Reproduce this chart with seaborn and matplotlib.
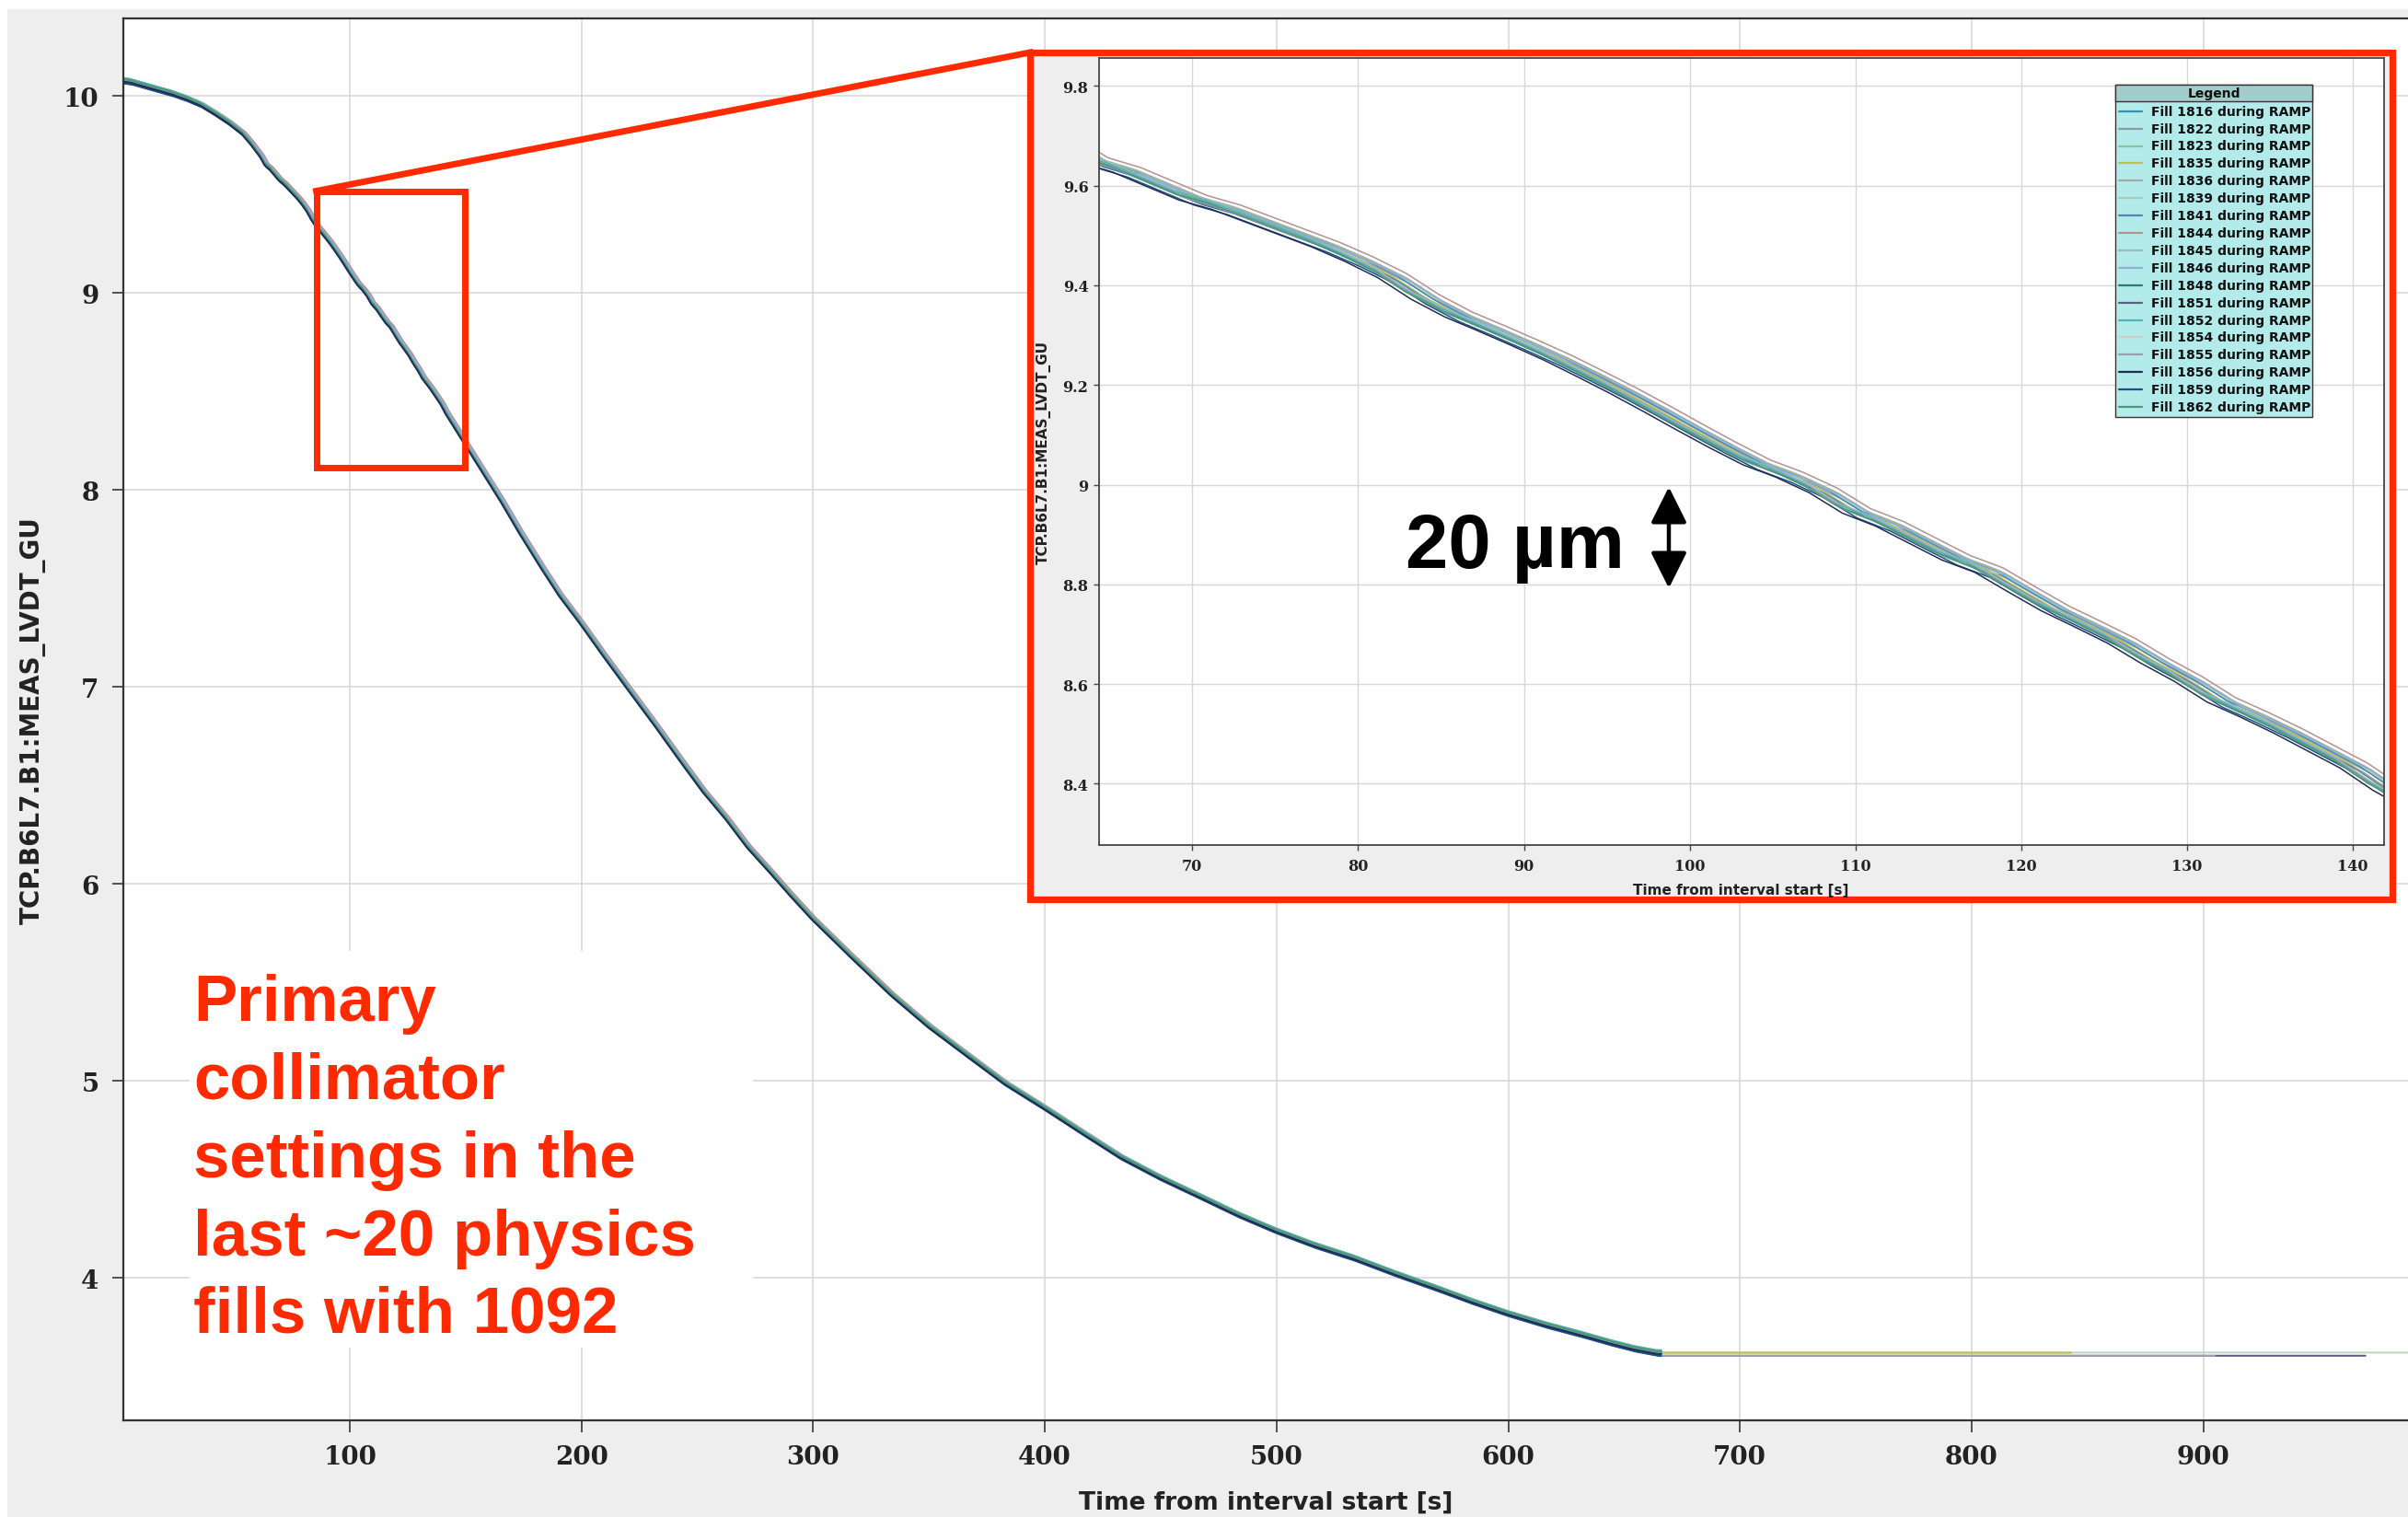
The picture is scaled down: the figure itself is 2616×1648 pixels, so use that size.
import matplotlib
matplotlib.use("Agg")
import matplotlib.pyplot as plt
import seaborn as sns
import pandas as pd
from matplotlib.patches import Rectangle, FancyArrowPatch
from matplotlib.lines import Line2D

# --- data ------------------------------------------------------------------
fills = ['1816', '1822', '1823', '1835', '1836', '1839', '1841', '1844', '1845',
         '1846', '1848', '1851', '1852', '1854', '1855', '1856', '1859', '1862']
colors = ['#3b8fb0', '#8c9c9c', '#7fc8a0', '#bdbf4f', '#a0aca0', '#a8ccb4',
          '#4f86b4', '#b89090', '#9db4c4', '#8fb0d8', '#2a7a78', '#5e5e80',
          '#4fb4b4', '#c4d4c4', '#9aa0a8', '#1e2d55', '#1f4f88', '#4a9a78']
# small per-fill vertical offset [mm] and time lag [s] seen in the inset bundle
offsets = [0.000, 0.003, 0.000, 0.003, -0.005, 0.013, -0.008, 0.006, 0.016,
           -0.011, 0.005, -0.012, 0.016, 0.004, -0.013, -0.003, -0.013, 0.011]
lags = [0.4, -0.6, 0.7, -0.1, 1.0, -0.9, 0.3, 0.9, -1.0,
        1.2, -0.7, 0.6, -1.2, 0.4, 1.0, -0.8, 0.1, -1.1]
# time at which each trace stops [s]
ends = [666, 666, 666, 843, 666, 666, 666, 666, 666,
        666, 666, 970, 666, 1000, 905, 666, 666, 666]
layer = [8, 18, 7, 4, 9, 10, 11, 12, 13, 14, 16, 2, 15, 1, 3, 20, 17, 19]

# common ramp shape (time [s], gap [mm])
early_t = [0, 6, 12, 18, 24, 30, 36, 42, 48, 54, 58, 62]
early_v = [10.08, 10.07, 10.05, 10.03, 10.01, 9.985, 9.955, 9.912, 9.865, 9.81, 9.755, 9.692]
zoom_t = [64, 66, 68, 70, 72, 74, 76, 78, 80, 82, 84, 86, 88, 90, 92, 94, 96, 98, 100, 102,
          104, 106, 108, 110, 112, 114, 116, 118, 120, 122, 124, 126, 128, 130, 132, 134,
          136, 138, 140, 142]
zoom_v = [9.650, 9.630, 9.602, 9.574, 9.555, 9.530, 9.505, 9.480, 9.451, 9.418,
          9.375, 9.340, 9.312, 9.283, 9.253, 9.220, 9.186, 9.150, 9.113, 9.077,
          9.043, 9.018, 8.987, 8.946, 8.920, 8.886, 8.852, 8.827, 8.788, 8.750,
          8.718, 8.685, 8.645, 8.609, 8.567, 8.537, 8.505, 8.470, 8.435, 8.390]
late_t = [146, 150, 158, 166, 174, 183, 191, 200, 210, 220, 232, 243, 253, 263, 272, 282,
          291, 300, 317, 334, 350, 367, 383, 400, 417, 433, 450, 468, 484, 500, 517, 534,
          552, 570, 585, 600, 617, 633, 645, 655, 665]
late_v = [8.315, 8.24, 8.09, 7.94, 7.78, 7.61, 7.465, 7.325, 7.16, 7.0, 6.81, 6.63, 6.47,
          6.33, 6.19, 6.06, 5.94, 5.825, 5.63, 5.44, 5.28, 5.13, 4.99, 4.865, 4.735, 4.615,
          4.51, 4.41, 4.32, 4.24, 4.165, 4.10, 4.02, 3.945, 3.88, 3.82, 3.76, 3.71, 3.67,
          3.64, 3.618]
flat_v = 3.618

annotation = ['Primary', 'collimator', 'settings in the', 'last ~20 physics', 'fills with 1092']

# --- helpers ------------------------------------------------------------------
W, H = 2616, 1649
RED = '#ff2a00'


def fx(x):
    return x / W


def fy(y):
    return 1 - y / H


def fig_rect(x0, y0, x1, y1, **kw):
    return Rectangle((fx(x0), fy(y1)), (x1 - x0) / W, (y1 - y0) / H,
                     transform=fig.transFigure, **kw)


sns.set_style("whitegrid")
plt.rcParams['font.family'] = ['DejaVu Sans']

fig = plt.figure(figsize=(W / 100, H / 100), dpi=100)
fig.patch.set_facecolor('white')
fig.add_artist(fig_rect(8, 11, W + 5, H + 5, facecolor='#eeeeee', edgecolor='none', zorder=-1))

base_t = early_t + zoom_t + late_t
base_v = early_v + zoom_v + late_v

series = []
for i, f in enumerate(fills):
    t = [x + lags[i] for x in base_t] + [ends[i]]
    v = [y + offsets[i] for y in base_v] + [flat_v + offsets[i]]
    series.append(pd.DataFrame({'t': t, 'v': v}))

# --- main axes ----------------------------------------------------------------
ax = fig.add_axes([fx(134), fy(1544), (W - 134) / W, (1544 - 21) / H])
ax.set_facecolor('white')
ax.set_zorder(0)
for i, f in enumerate(fills):
    sns.lineplot(data=series[i], x='t', y='v', ax=ax, color=colors[i], lw=1.5,
                 estimator=None, sort=False, zorder=2 + layer[i] * 0.01)
ax.set_xlim(2.2, 988.4)
ax.set_ylim(3.278, 10.393)
ax.set_xticks([100, 200, 300, 400, 500, 600, 700, 800, 900])
ax.set_yticks([4, 5, 6, 7, 8, 9, 10])
ax.grid(True, color='#d6d6d6', lw=1.1)
for s in ['left', 'bottom', 'top']:
    ax.spines[s].set_color('#333333')
    ax.spines[s].set_linewidth(1.6)
ax.spines['right'].set_visible(False)
ax.tick_params(axis='both', bottom=True, left=True, direction='out', length=9,
               width=1.3, color='#444444', pad=10, labelsize=20, labelcolor='#222222')
for lbl in ax.get_xticklabels() + ax.get_yticklabels():
    lbl.set_fontfamily('DejaVu Serif')
    lbl.set_fontweight('bold')
ax.set_xlabel('Time from interval start [s]', fontsize=19, fontweight='bold', color='#222222')
ax.set_ylabel('TCP.B6L7.B1:MEAS_LVDT_GU', fontsize=20, fontweight='bold', color='#222222')
ax.xaxis.set_label_coords(0.5, -0.050)
ax.yaxis.set_label_coords(-0.034, 0.5)

# white box behind the annotation
ax.add_patch(Rectangle((31, 3.649), 243, 2.01, facecolor='white', edgecolor='none', zorder=1))

# --- inset --------------------------------------------------------------------
fig.add_artist(fig_rect(1119, 58, 2599, 978, facecolor='#eeeeee', edgecolor=RED,
                        lw=5.2, zorder=2))
axi = fig.add_axes([fx(1193.5), fy(919), 1396 / W, 855 / H])
axi.set_zorder(3)
axi.set_facecolor('white')
for i, f in enumerate(fills):
    sns.lineplot(data=series[i], x='t', y='v', ax=axi, color=colors[i], lw=1.1,
                 estimator=None, sort=False, zorder=2 + layer[i] * 0.01)
axi.set_xlim(64.35, 141.85)
axi.set_ylim(8.277, 9.856)
axi.set_xticks([70, 80, 90, 100, 110, 120, 130, 140])
axi.set_yticks([8.4, 8.6, 8.8, 9.0, 9.2, 9.4, 9.6, 9.8])
axi.set_yticklabels(['8.4', '8.6', '8.8', '9', '9.2', '9.4', '9.6', '9.8'])
axi.grid(True, color='#d8d8d8', lw=1.0)
for s in axi.spines.values():
    s.set_color('#444444')
    s.set_linewidth(1.3)
axi.tick_params(axis='both', bottom=True, left=True, direction='out', length=4,
                width=1.0, color='#444444', labelsize=11.5, labelcolor='#222222')
axi.tick_params(axis='x', pad=6)
axi.tick_params(axis='y', pad=4)
for lbl in axi.get_xticklabels() + axi.get_yticklabels():
    lbl.set_fontfamily('DejaVu Serif')
    lbl.set_fontweight('bold')
axi.set_xlabel('Time from interval start [s]', fontsize=11, fontweight='bold', color='#222222')
axi.set_ylabel('TCP.B6L7.B1:MEAS_LVDT_GU', fontsize=11, fontweight='bold', color='#222222')
axi.xaxis.set_label_coords(0.5, -0.048)
axi.yaxis.set_label_coords(-0.037, 0.5)

# legend panel inside the inset
fig.add_artist(fig_rect(2298, 93, 2512, 454, facecolor='#b3eaea', edgecolor='#333333',
                        lw=1.0, zorder=5))
fig.add_artist(fig_rect(2298, 93, 2512, 111, facecolor='#a3cccc', edgecolor='#333333',
                        lw=1.0, zorder=5))
fig.text(fx(2405), fy(102), 'Legend', ha='center', va='center', fontsize=10,
         fontweight='bold', color='#111111', zorder=6)
for i, f in enumerate(fills):
    yy = 121.7 + i * 18.9
    fig.add_artist(Line2D([fx(2302), fx(2327)], [fy(yy), fy(yy)], color=colors[i], lw=1.6,
                          transform=fig.transFigure, zorder=6))
    fig.text(fx(2337), fy(yy), f'Fill {f} during RAMP', ha='left', va='center',
             fontsize=10, fontweight='bold', color='#111111', zorder=6)

# zoom box + connector on the main plot
fig.add_artist(fig_rect(343.6, 208.5, 505.4, 508.7, facecolor='none', edgecolor=RED,
                        lw=5.0, zorder=4))
fig.add_artist(Line2D([fx(343.6), fx(1119)], [fy(208.5), fy(58)], color=RED, lw=5.0,
                      transform=fig.transFigure, zorder=4, solid_capstyle='projecting'))

# 20 um marker
fig.text(fx(1527), fy(617), '20 µm', ha='left', va='baseline', fontsize=60,
         fontweight='bold', family=['Liberation Sans', 'DejaVu Sans'], color='black', zorder=7)
fig.add_artist(FancyArrowPatch((fx(1813), fy(640)), (fx(1813), fy(530)),
                               transform=fig.transFigure,
                               arrowstyle='<|-|>,head_length=1.0,head_width=0.5',
                               mutation_scale=24, lw=3.2, color='black',
                               shrinkA=0, shrinkB=0, zorder=7))

# red annotation
baselines = [1109, 1194, 1279, 1364, 1448]
for line, yb in zip(annotation, baselines):
    fig.text(fx(210), fy(yb), line, ha='left', va='baseline', fontsize=51,
             fontweight='bold', family=['Liberation Sans', 'DejaVu Sans'], color=RED, zorder=7)

fig.savefig('out.png', dpi=100)
